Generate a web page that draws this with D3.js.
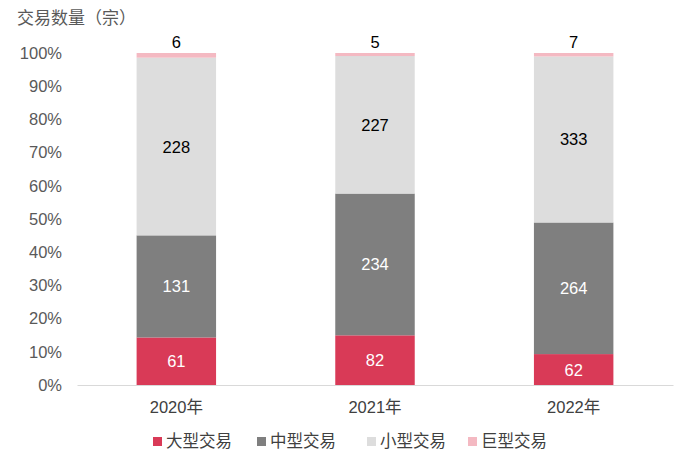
<!DOCTYPE html>
<html><head><meta charset="utf-8">
<script src="https://cdn.jsdelivr.net/npm/d3@7/dist/d3.min.js"></script>
<style>body{margin:0;background:#fff;font-family:"Liberation Sans",Arial,"Noto Sans CJK SC",sans-serif;}</style>
</head><body><svg id="c" width="700" height="453"></svg>
<script>
const years = ["2020年","2021年","2022年"];
const seriesNames = ["大型交易","中型交易","小型交易","巨型交易"];
const large = [61,82,62];
const medium = [131,234,264];
const small = [228,227,333];
const giant = [6,5,7];
const yTicks = [0,0.1,0.2,0.3,0.4,0.5,0.6,0.7,0.8,0.9,1.0];
const colors = ["#D93A57","#7F7F7F","#DDDDDD","#F4B9C2"];
const labelColors = ["#fff","#fff","#000","#000"];

const svg = d3.select("#c");
const m = {l:77, r:27, t:53, b:68};
const W = 700, H = 453;
const x = d3.scaleBand().domain(years).range([m.l, W-m.r]).paddingInner(0.6).paddingOuter(0.3);
const y = d3.scaleLinear().domain([0,1]).range([H-m.b, m.t]);
const font = "'Liberation Sans',Arial,'Noto Sans CJK SC',sans-serif";
const fs = 16.5;

const rows = years.map((yr,i)=>({year:yr, "大型交易":large[i],"中型交易":medium[i],"小型交易":small[i],"巨型交易":giant[i]}));
const stack = d3.stack().keys(seriesNames).offset(d3.stackOffsetExpand);
const layers = stack(rows);

// title
svg.append("text").attr("x",17).attr("y",24).attr("font-family","'Noto Sans CJK SC',sans-serif")
  .attr("font-size",17).attr("fill","#595959").text("交易数量（宗）");

// y axis
const yAx = svg.append("g").attr("transform",`translate(${m.l},0)`)
  .call(d3.axisLeft(y).tickValues(yTicks).tickFormat(d3.format(".0%")).tickSize(0).tickPadding(15));
yAx.select(".domain").remove();
yAx.selectAll("text").attr("font-family",font).attr("font-size",fs).attr("fill","#595959");

// bars
layers.forEach((layer,k)=>{
  svg.append("g").selectAll("rect").data(layer).join("rect")
    .attr("x",d=>x(d.data.year)).attr("width",x.bandwidth())
    .attr("y",d=>y(d[1])).attr("height",d=>y(d[0])-y(d[1]))
    .attr("fill",colors[k]);
});

// labels
layers.forEach((layer,k)=>{
  svg.append("g").selectAll("text").data(layer).join("text")
    .attr("x",d=>x(d.data.year)+x.bandwidth()/2)
    .attr("y",d=> k===3 ? y(d[1])-5 : (y(d[0])+y(d[1]))/2+6)
    .attr("text-anchor","middle").attr("font-family",font).attr("font-size",fs)
    .attr("fill",labelColors[k]).text(d=>d.data[seriesNames[k]]);
});

// x axis
const xAx = svg.append("g").attr("transform",`translate(0,${y(0)})`)
  .call(d3.axisBottom(x).tickSize(0).tickPadding(16));
xAx.select(".domain").attr("stroke","#D9D9D9").attr("stroke-width",1.2);
xAx.selectAll("text").attr("font-family",font).attr("font-size",fs).attr("fill","#404040");

// legend
const legX = [153,257,367,468];
const lg = svg.append("g");
seriesNames.forEach((n,i)=>{
  lg.append("rect").attr("x",legX[i]).attr("y",437).attr("width",9).attr("height",9).attr("fill",colors[i]);
  lg.append("text").attr("x",legX[i]+13).attr("y",447).attr("font-family","'Noto Sans CJK SC',sans-serif")
    .attr("font-size",16.5).attr("fill","#404040").text(n);
});
</script></body></html>
